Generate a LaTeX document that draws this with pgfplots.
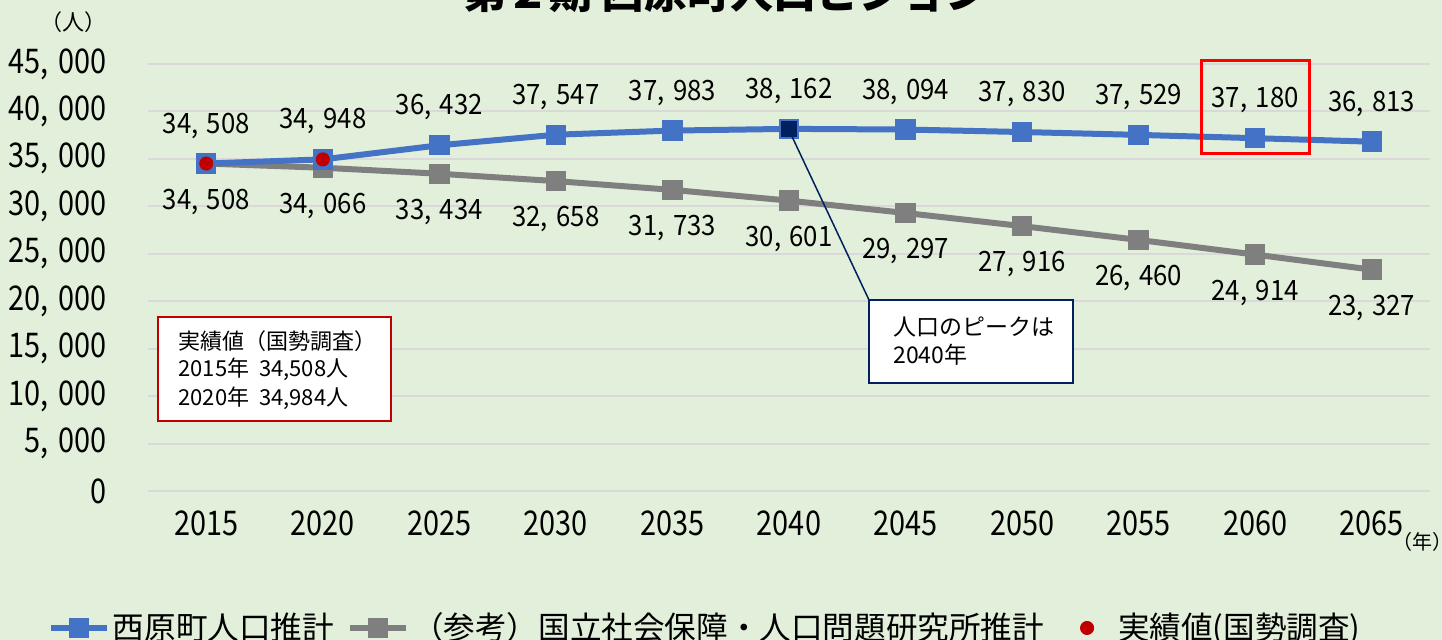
\documentclass[border=0pt]{standalone}
\usepackage{fontspec}
\setmainfont{Noto Sans CJK JP}
\newfontfamily\tickfont[FakeStretch=0.85]{Noto Sans CJK JP}
\newfontfamily\labfont[FakeStretch=0.92]{Noto Sans CJK JP}
\usepackage{pgfplots}
\usepackage{pgfplotstable}
\pgfplotsset{compat=1.18}
\pgfplotsset{redleg/.style={legend image code/.code={\path[draw=none,fill=none] (0pt,-1pt) rectangle (29pt,1pt); \draw[mark repeat=2,mark phase=2,##1] plot coordinates {(0pt,0pt) (15pt,0pt) (30pt,0pt)};}}}
\definecolor{bg}{HTML}{E2EFDA}
\definecolor{sblue}{HTML}{4472C4}
\definecolor{sgray}{HTML}{7F7F7F}
\definecolor{sred}{HTML}{C00000}
\definecolor{navy}{HTML}{002060}
\definecolor{gridc}{HTML}{D9D9D9}
\definecolor{hred}{HTML}{FF0000}

\pgfplotstableread{
year blue gray
2015 34508 34508
2020 34948 34066
2025 36432 33434
2030 37547 32658
2035 37983 31733
2040 38162 30601
2045 38094 29297
2050 37830 27916
2055 37529 26460
2060 37180 24914
2065 36813 23327
}\data

\pgfplotstableread{
year val
2015 34508
2020 34948
}\actual

\pgfplotstableread{
year val
2040 38162
}\peak

\begin{document}
\begin{tikzpicture}
\path[use as bounding box, fill=bg] (-74pt,-74.5pt) rectangle (647pt,245.5pt);
\begin{axis}[at={(0,0)}, anchor=south west, scale only axis,
  width=641pt, height=213.5pt,
  xmin=2012.5, xmax=2067.5, ymin=0, ymax=45000,
  xtick={2015,2020,2025,2030,2035,2040,2045,2050,2055,2060,2065},
  xticklabels={2015,2020,2025,2030,2035,2040,2045,2050,2055,2060,2065},
  ytick={0,5000,...,45000},
  scaled y ticks=false,
  axis line style={draw=none}, major tick length=0pt,
  ymajorgrids, grid style={gridc, line width=1pt},
  /pgf/number format/fixed, /pgf/number format/precision=0,
  /pgf/number format/1000 sep={,\hspace{0.3em}},
  /pgf/number format/assume math mode=true,
  tick label style={font=\tickfont\fontsize{17}{20}\selectfont, text=black},
  yticklabel style={anchor=east, inner sep=0pt, xshift=-20.5pt},
  xticklabel style={anchor=center, inner sep=0pt, yshift=-16pt},
  clip=false,
  legend columns=3,
  legend image code/.code={\draw[mark repeat=2,mark phase=2,#1] plot coordinates {(0pt,0pt) (14pt,0pt) (28pt,0pt)};},
  legend style={at={(-0.0784,-0.3208)}, anchor=west, draw=none, fill=none,
    inner sep=0pt, font=\fontsize{15.8}{18}\selectfont,
    nodes={inner sep=1.5pt},
    /tikz/every even column/.append style={column sep=5pt}},
]
\addlegendimage{sblue, line width=3pt, mark=square*, mark size=3.6pt, mark options={solid}}
\addlegendentry{西原町人口推計}
\addlegendimage{sgray, line width=3pt, mark=square*, mark size=3.6pt, mark options={solid}}
\addlegendentry{（参考）国立社会保障・人口問題研究所推計}
\addlegendimage{only marks, sred, mark=*, mark size=3.3pt, redleg}
\addlegendentry{実績値(国勢調査)}

\addplot[sgray, line width=3pt, mark=square*, mark size=3.6pt, forget plot,
  point meta=explicit, nodes near coords,
  every node near coord/.append style={font=\labfont\fontsize{14}{16}\selectfont, text=black, anchor=center, yshift=-19pt}]
  table[x=year, y=gray, meta=gray] {\data};
\addplot[sblue, line width=3pt, mark=square*, mark size=3.6pt, forget plot,
  point meta=explicit, nodes near coords,
  every node near coord/.append style={font=\labfont\fontsize{14}{16}\selectfont, text=black, anchor=center, yshift=19pt}]
  table[x=year, y=blue, meta=blue] {\data};
\addplot[only marks, navy, mark=square*, mark size=3.7pt, forget plot] table[x=year, y=val] {\peak};
\addplot[only marks, sred, mark=*, mark size=3.3pt, forget plot] table[x=year, y=val] {\actual};
\end{axis}

% title (cut at top)
\node[anchor=base, font=\fontsize{21.5}{24}\selectfont\bfseries] at (289pt,241pt) {第２期 西原町人口ビジョン};
% unit labels
\node[font=\fontsize{11}{12}\selectfont] at (-37pt,234.5pt) {（人）};
\node[font=\fontsize{10}{11}\selectfont] at (637pt,-25.5pt) {（年）};
% actual-values box
\draw[sred, line width=1pt, fill=white] (5pt,35pt) rectangle (121.5pt,87pt);
\node[anchor=west, font=\fontsize{11}{12}\selectfont, inner sep=0pt] at (15pt,75pt) {実績値（国勢調査）};
\node[anchor=west, font=\fontsize{11}{12}\selectfont, inner sep=0pt] at (15pt,61pt) {2015年\ \ 34,508人};
\node[anchor=west, font=\fontsize{11}{12}\selectfont, inner sep=0pt] at (15pt,46.5pt) {2020年\ \ 34,984人};
% peak callout
\draw[navy, line width=0.75pt] (320pt,181.5pt) -- (360.5pt,95.5pt);
\draw[navy, line width=0.75pt, fill=white] (360.5pt,54pt) rectangle (462.5pt,95.5pt);
\node[anchor=west, font=\fontsize{11.5}{13}\selectfont, inner sep=0pt] at (372.5pt,82pt) {人口のピークは};
\node[anchor=west, font=\fontsize{11.5}{13}\selectfont, inner sep=0pt] at (372.5pt,68pt) {2040年};
% highlight rectangle
\draw[hred, line width=1.5pt] (526.5pt,168.5pt) rectangle (580.5pt,215pt);
\end{tikzpicture}
\end{document}
